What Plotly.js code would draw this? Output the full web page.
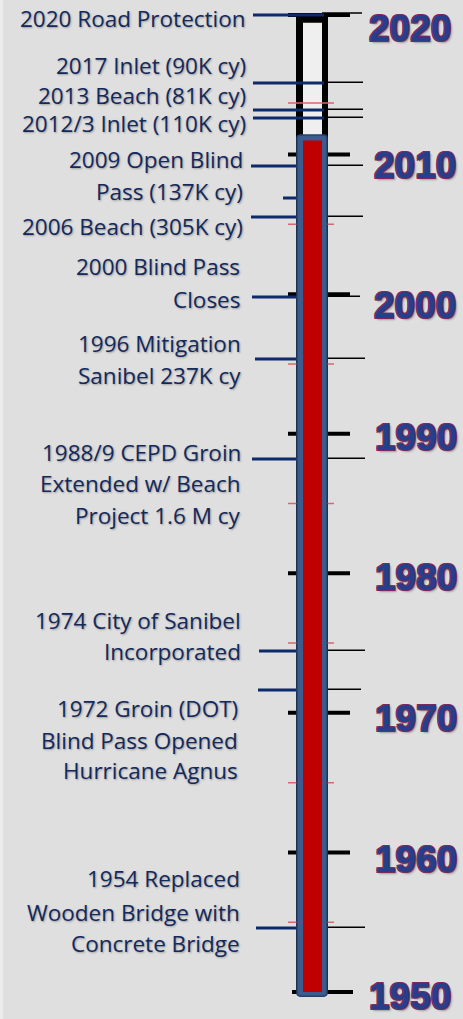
<!DOCTYPE html>
<html>
<head>
<meta charset="utf-8">
<script src="https://cdn.plot.ly/plotly-3.0.1.min.js"></script>
<style>
html,body{margin:0;padding:0;background:#dfdfdf;}
#chart{width:463px;height:1019px;}
</style>
</head>
<body>
<div id="chart"></div>
<script>
// ---- data ----
const decadeYears = [1950, 1960, 1970, 1980, 1990, 2000, 2010, 2020];
const decadeLabels = ['1950', '1960', '1970', '1980', '1990', '2000', '2010', '2020'];
const minorTickYears = [1955, 1965, 1975, 1985, 1995, 2005, 2013.7];
const levelStart = 1950;
const levelEnd = 2011;          // top of the red column
const tubeTop = 2020;
// event lines (year position on the scale, as drawn)
const eventLineYears = [2020.0, 2015.13, 2013.19, 2012.62, 2009.18, 2006.89, 2005.53, 1999.8, 1995.35, 1988.19, 1974.43, 1971.64, 1954.59];
const eventHasRightLine = [true, true, true, true, true, false, true, true, true, true, true, true, true];
// event label text lines
const eventText = [
  '2020 Road Protection',
  '2017 Inlet (90K cy)',
  '2013 Beach (81K cy)',
  '2012/3 Inlet (110K cy)',
  '2009 Open Blind',
  'Pass (137K cy)',
  '2006 Beach (305K cy)',
  '2000 Blind Pass',
  'Closes',
  '1996 Mitigation',
  'Sanibel 237K cy',
  '1988/9 CEPD Groin',
  'Extended w/ Beach',
  'Project 1.6 M cy',
  '1974 City of Sanibel',
  'Incorporated',
  '1972 Groin (DOT)',
  'Blind Pass Opened',
  'Hurricane Agnus',
  '1954 Replaced',
  'Wooden Bridge with',
  'Concrete Bridge'
];

// ---- layout positions (pixels) ----
const W = 463, H = 1019;
const textPosY = [18, 66, 95, 124, 159, 191, 227, 267, 299, 343, 375, 452, 483, 515, 620, 651, 708, 740, 770, 878, 912, 943];
const textPosX = [248, 248, 248, 248, 245, 245, 245, 242, 242, 243, 243, 243, 243, 243, 243, 243, 240, 240, 240, 242, 242, 242];
const eventLineX0 = [253, 253, 253, 253, 251, 283, 251, 252, 255, 252, 259, 258, 256];
const eventLineX1R = [362, 363, 363, 363, 363, 0, 363, 360, 365, 365, 365, 361, 365];
const labelPosY = [996, 859, 718, 577, 437, 305, 165, 28];
const labelPosX = [410, 416, 416, 416, 416, 415, 415, 410];

const navy = '#13295c';
const shapes = [];
// left white strip
shapes.push({type: 'rect', xref: 'paper', yref: 'paper', x0: 0, x1: 3 / W, y0: 0, y1: 1, fillcolor: '#ececec', line: {width: 0}, layer: 'below'});
// glass tube: black walls + light interior
shapes.push({type: 'rect', xref: 'x', yref: 'y', x0: 296, x1: 328, y0: levelStart, y1: tubeTop, fillcolor: '#000', line: {width: 0}, layer: 'below'});
shapes.push({type: 'rect', xref: 'x', yref: 'y', x0: 303, x1: 322, y0: levelStart, y1: tubeTop - 0.55, fillcolor: '#efefef', line: {width: 0}, layer: 'below'});
// decade ticks
decadeYears.forEach((y, i) => {
  const first = i === 0;
  shapes.push({type: 'line', xref: 'x', yref: 'y', x0: first ? 292 : 288, x1: first ? 353 : 350, y0: y, y1: y,
    line: {color: '#000', width: 4}, layer: 'below'});
});
// minor red ticks
minorTickYears.forEach(y => {
  shapes.push({type: 'line', xref: 'x', yref: 'y', x0: 288, x1: 334, y0: y, y1: y,
    line: {color: '#d9686a', width: 1.5}, layer: 'below'});
});
// event lines
eventLineYears.forEach((y, i) => {
  if (eventHasRightLine[i]) {
    shapes.push({type: 'line', xref: 'x', yref: 'y', x0: 322, x1: eventLineX1R[i], y0: y + (i === 0 ? 0.15 : 0.05), y1: y + (i === 0 ? 0.15 : 0.05),
      line: {color: '#000', width: 1.5}, layer: 'below'});
  }
  shapes.push({type: 'line', xref: 'x', yref: 'y', x0: eventLineX0[i], x1: 324, y0: y, y1: y,
    line: {color: '#0d2a6b', width: 3}, layer: 'below'});
});

const traces = [
  { // casing of the column
    type: 'bar', x: [312], y: [levelEnd - levelStart + 0.7], base: [levelStart - 0.3], width: [30],
    marker: {color: '#3b5c8c', line: {color: '#27416b', width: 1.5}, cornerradius: 3},
    hoverinfo: 'skip', showlegend: false
  },
  { // red column
    type: 'bar', x: [312.5], y: [levelEnd - levelStart], base: [levelStart], width: [19],
    marker: {color: '#c00000', line: {width: 0}},
    hoverinfo: 'skip', showlegend: false
  }
];

const annotations = [];
eventText.forEach((t, i) => {
  annotations.push({
    text: t, xref: 'x', yref: 'paper', x: textPosX[i], y: 1 - textPosY[i] / H,
    xanchor: 'right', yanchor: 'middle', showarrow: false,
    font: {family: 'Open Sans', size: 22.5, color: navy, shadow: '1px 1px 2px rgba(0,0,0,0.3)'}
  });
});
decadeLabels.forEach((t, i) => {
  annotations.push({
    text: '<b>' + t + '</b>', xref: 'x', yref: 'paper', x: labelPosX[i], y: 1 - labelPosY[i] / H,
    xanchor: 'center', yanchor: 'middle', showarrow: false, borderpad: 0,
    font: {family: 'Liberation Sans', size: 37, color: '#253f8c',
      shadow: '1px 1px 0 #7a2a5a, -1px -1px 0 #7a2a5a, 1px -1px 0 #7a2a5a, -1px 1px 0 #7a2a5a, 2px 2px 2px rgba(0,0,0,0.3)'}
  });
});

// axis range so that 2020 -> 15 px and 1950 -> 992 px
const pxPerYear = (992 - 15) / 70;
const yTop = 2020 + 15 / pxPerYear;
const yBot = 1950 - (H - 992) / pxPerYear;

const layout = {
  width: W, height: H,
  margin: {l: 0, r: 0, t: 0, b: 0, pad: 0},
  paper_bgcolor: '#dfdfdf', plot_bgcolor: '#dfdfdf',
  barmode: 'overlay',
  xaxis: {range: [0, W], visible: false, fixedrange: true},
  yaxis: {range: [yBot, yTop], visible: false, fixedrange: true},
  shapes: shapes, annotations: annotations, showlegend: false
};
Plotly.newPlot('chart', traces, layout, {displayModeBar: false, staticPlot: true});
</script>
</body>
</html>
